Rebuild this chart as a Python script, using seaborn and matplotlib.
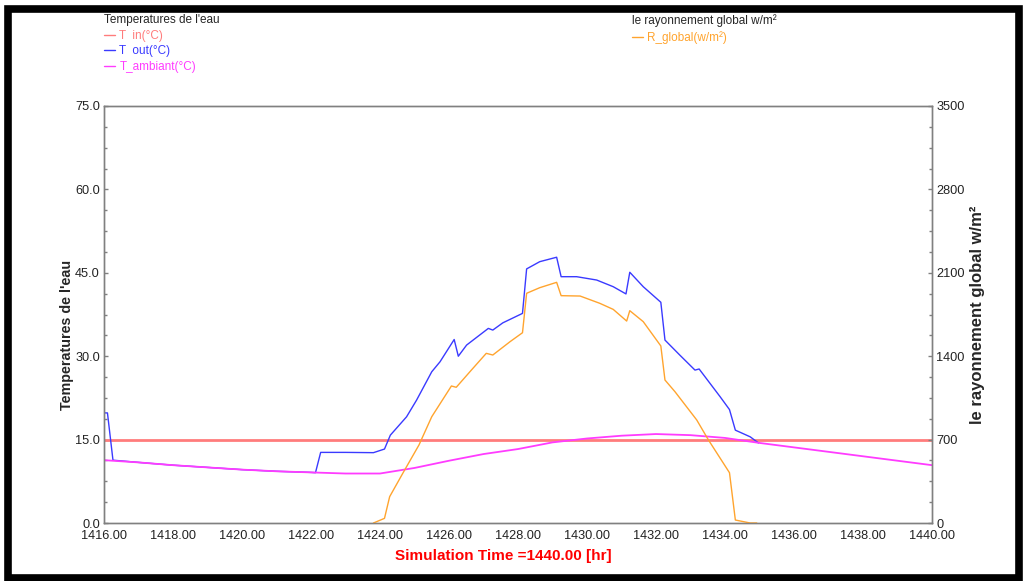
import numpy as np
import pandas as pd
import matplotlib
matplotlib.use("Agg")
import matplotlib.pyplot as plt
import seaborn as sns
from matplotlib.ticker import MultipleLocator, FormatStrFormatter
from matplotlib.patches import Rectangle

# data
t_in = [1416.0, 1440.0]
T_in = [15.0, 15.0]

t_out = [1416.0, 1416.1, 1416.26, 1417, 1418, 1419, 1420, 1421, 1422, 1422.13, 1422.28, 1423.0,
         1423.81, 1424.13, 1424.3, 1424.77, 1425.06, 1425.5, 1425.74, 1426.15, 1426.27, 1426.51,
         1427.14, 1427.27, 1427.56, 1428.13, 1428.25, 1428.63, 1429.12, 1429.25, 1429.7, 1430.28,
         1430.76, 1431.13, 1431.24, 1431.63, 1432.14, 1432.26, 1432.69, 1433.13, 1433.25, 1433.86,
         1434.13, 1434.3, 1434.73, 1434.97]
T_out = [19.8, 19.8, 11.3, 10.9, 10.4, 10.0, 9.6, 9.3, 9.1, 9.05, 12.7, 12.7,
         12.65, 13.3, 15.8, 19.1, 22.1, 27.2, 29.0, 33.0, 30.0, 32.0,
         35.0, 34.7, 36.0, 37.7, 45.7, 47.0, 47.8, 44.3, 44.3, 43.7,
         42.5, 41.2, 45.1, 42.5, 39.7, 32.9, 30.2, 27.5, 27.7, 22.7,
         20.4, 16.7, 15.5, 14.4]

t_amb = list(range(1416, 1441))
T_amb = [11.3, 10.9, 10.4, 10.0, 9.6, 9.3, 9.1, 8.9, 8.9, 9.9, 11.2, 12.4, 13.3,
         14.5, 15.2, 15.7, 16.0, 15.8, 15.3, 14.4, 13.6, 12.8, 12.0, 11.2, 10.4]

t_rad = [1423.81, 1424.13, 1424.28, 1424.66, 1425.13, 1425.5, 1426.07, 1426.21, 1426.65, 1427.08,
         1427.27, 1427.77, 1428.13, 1428.25, 1428.63, 1429.12, 1429.25, 1429.8, 1430.37, 1430.76,
         1431.15, 1431.24, 1431.63, 1432.14, 1432.26, 1432.55, 1433.18, 1433.52, 1434.13, 1434.3,
         1434.73, 1434.92]
R_glob = [0, 39, 221, 417, 655, 892, 1150, 1139, 1284, 1424,
          1410, 1522, 1597, 1928, 1975, 2020, 1908, 1905, 1844, 1793,
          1695, 1782, 1690, 1486, 1200, 1102, 865, 697, 422, 25,
          0, 0]

sns.set_style("white")
plt.rcParams['font.family'] = ['Liberation Sans', 'DejaVu Sans']

fig = plt.figure(figsize=(10.23, 5.81), dpi=100)
ax = fig.add_axes([104/1023, 58/581, 828/1023, 417/581])
ax2 = ax.twinx()

df_in = pd.DataFrame({"t": t_in, "v": T_in})
df_out = pd.DataFrame({"t": t_out, "v": T_out})
df_amb = pd.DataFrame({"t": t_amb, "v": T_amb})
df_rad = pd.DataFrame({"t": t_rad, "v": R_glob})

sns.lineplot(data=df_in, x="t", y="v", ax=ax, color="#ff7c7c", lw=2, estimator=None, label="T  in(°C)")
sns.lineplot(data=df_out, x="t", y="v", ax=ax, color="#3a3aff", lw=1, estimator=None, label="T  out(°C)")
sns.lineplot(data=df_amb, x="t", y="v", ax=ax, color="#ff3cff", lw=1.3, estimator=None, label="T_ambiant(°C)")
sns.lineplot(data=df_rad, x="t", y="v", ax=ax2, color="#ffa42e", lw=1, estimator=None, label="R_global(w/m²)")

ax.set_xlim(1416, 1440)
ax.set_ylim(0, 75)
ax2.set_ylim(0, 3500)
ax.xaxis.set_major_locator(MultipleLocator(2))
ax.xaxis.set_minor_locator(MultipleLocator(0.5))
ax.yaxis.set_major_locator(MultipleLocator(15))
ax.yaxis.set_minor_locator(MultipleLocator(3.75))
ax2.yaxis.set_major_locator(MultipleLocator(700))
ax2.yaxis.set_minor_locator(MultipleLocator(175))
ax.xaxis.set_major_formatter(FormatStrFormatter('%.2f'))
ax.yaxis.set_major_formatter(FormatStrFormatter('%.1f'))
ax2.yaxis.set_major_formatter(FormatStrFormatter('%d'))

for a in (ax, ax2):
    a.tick_params(which='both', direction='in', color='#808080', labelcolor='#222222',
                  labelsize=9.2, pad=3)
    a.tick_params(which='major', length=3, width=1)
    a.tick_params(which='minor', length=2, width=1)
    for s in a.spines.values():
        s.set_color('#808080')
        s.set_linewidth(1)
ax.tick_params(axis='x', which='both', top=False, pad=5)
ax.tick_params(axis='y', which='both', right=False)
ax2.tick_params(axis='y', which='both', left=False)

ax.set_xlabel("Simulation Time =1440.00 [hr]", color='red', fontweight='bold', fontsize=11)
ax.xaxis.set_label_coords(0.482, -0.062)
ax.set_ylabel("Temperatures de l'eau", fontweight='bold', fontsize=10.3)
ax.yaxis.set_label_coords(-0.036, 0.45)
ax2.set_ylabel("le rayonnement global w/m²", fontweight='bold', fontsize=12, rotation=90)
ax2.yaxis.set_label_coords(1.046, 0.5)

h1, l1 = ax.get_legend_handles_labels()
h2, l2 = ax2.get_legend_handles_labels()
ax.get_legend().remove()
ax2.get_legend().remove()

leg1 = fig.legend(h1, l1, title="Temperatures de l'eau", loc='upper left',
                  bbox_to_anchor=(104/1023, 1 - 14/581), frameon=False, fontsize=8.5,
                  title_fontsize=8.5, handlelength=0.9, handletextpad=0.4, labelspacing=0.28,
                  borderpad=0, borderaxespad=0, labelcolor='linecolor', alignment='left')
leg2 = fig.legend(h2, l2, title="le rayonnement global w/m²", loc='upper left',
                  bbox_to_anchor=(632/1023, 1 - 14/581), frameon=False, fontsize=8.5,
                  title_fontsize=8.5, handlelength=0.9, handletextpad=0.4, labelspacing=0.28,
                  borderpad=0, borderaxespad=0, labelcolor='linecolor', alignment='left')
for lg in (leg1, leg2):
    lg._legend_box.sep = 3
    for ln in lg.get_lines():
        ln.set_linewidth(1)

# black frame round the picture
fig.patches.append(Rectangle((7.5/1023, 3/581), 1011/1023, 569.5/581, transform=fig.transFigure,
                             fill=False, edgecolor='black', lw=5.5))

fig.savefig("out.png", dpi=100)
